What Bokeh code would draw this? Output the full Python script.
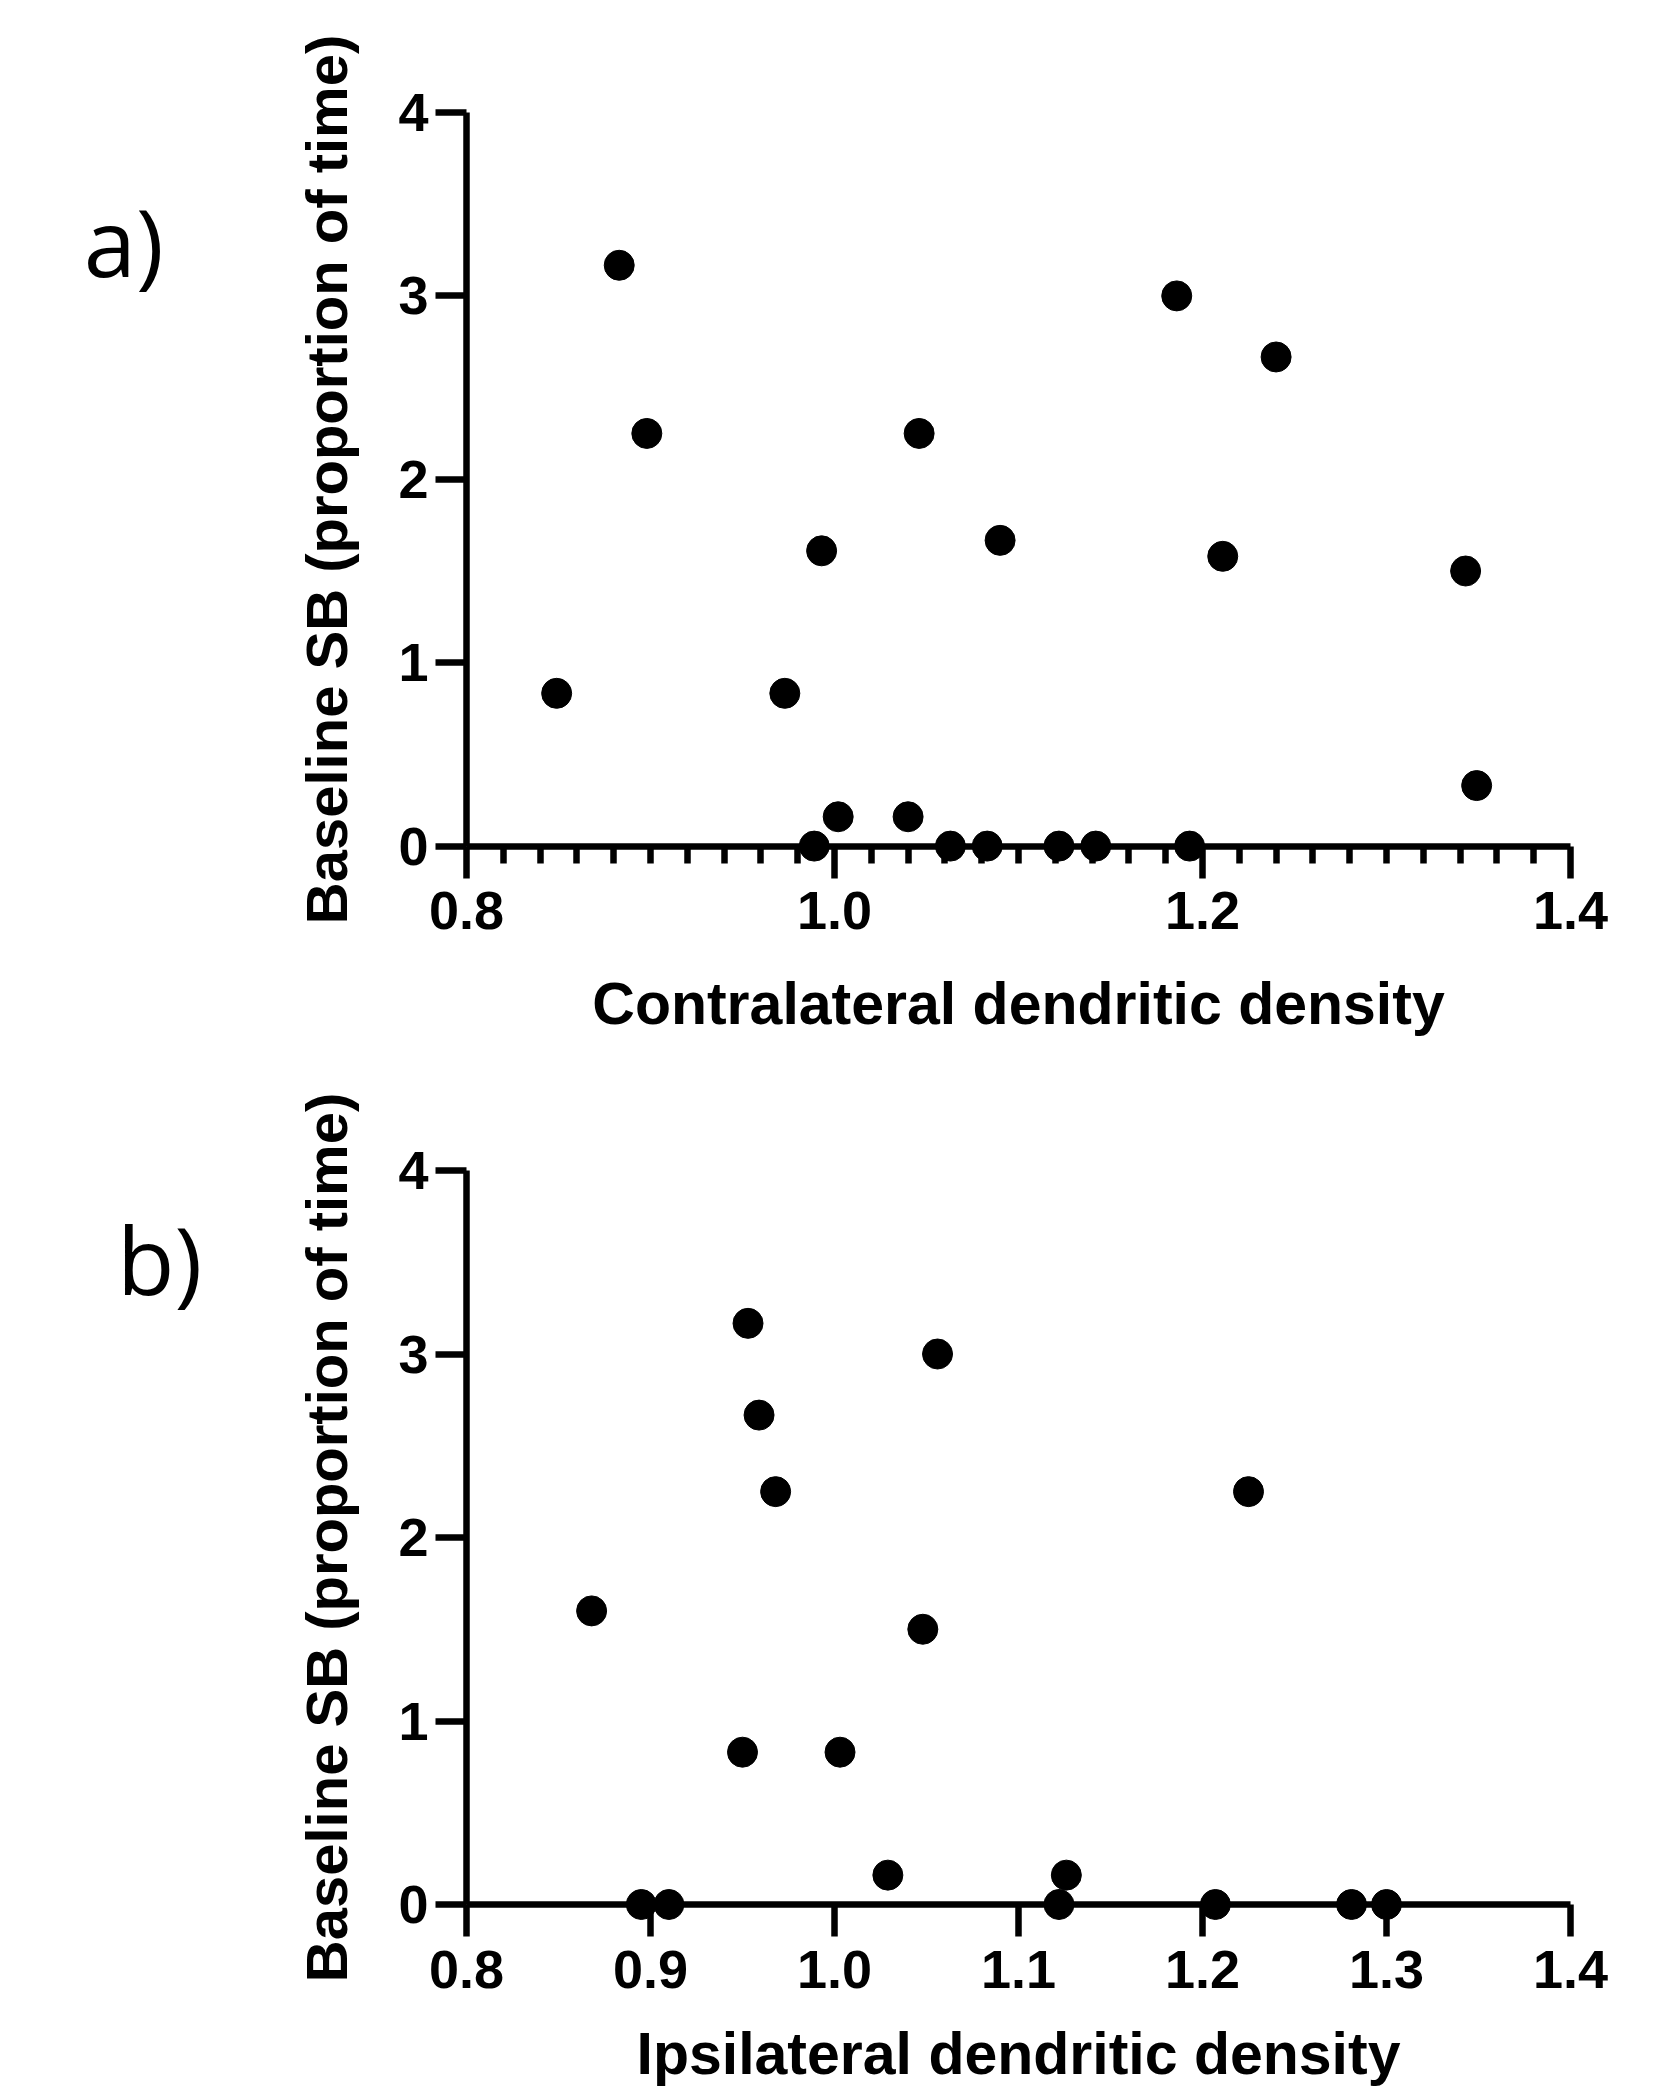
from bokeh.plotting import figure
from bokeh.models import Range1d, FixedTicker, Label, PrintfTickFormatter
from bokeh.layouts import column
from bokeh.embed import file_html
from bokeh.resources import INLINE

# ---- data ----
x_contra = [0.849, 0.883, 0.898, 0.973, 0.993, 0.989, 1.002, 1.040, 1.046, 1.063,
            1.083, 1.090, 1.122, 1.142, 1.186, 1.193, 1.211, 1.240, 1.343, 1.349]
y_contra = [0.833, 3.167, 2.25, 0.833, 1.61, 0.0, 0.16, 0.16, 2.25, 0.0,
            0.0, 1.667, 0.0, 0.0, 3.0, 0.0, 1.58, 2.667, 1.5, 0.33]

x_ipsi = [0.868, 0.895, 0.910, 0.950, 0.953, 0.959, 0.968, 1.003, 1.029, 1.048,
          1.056, 1.122, 1.126, 1.207, 1.225, 1.281, 1.300]
y_ipsi = [1.6, 0.0, 0.0, 0.83, 3.167, 2.667, 2.25, 0.83, 0.16, 1.5,
          3.0, 0.0, 0.16, 0.0, 2.25, 0.0, 0.0]

y_ticks = [0, 1, 2, 3, 4]
x_ticks_a = [0.8, 1.0, 1.2, 1.4]
x_minor_a = [round(0.8 + 0.02 * i, 2) for i in range(1, 30) if i % 10 != 0]
x_ticks_b = [0.8, 0.9, 1.0, 1.1, 1.2, 1.3, 1.4]

y_title = "Baseline SB (proportion of time)"
x_title_a = "Contralateral dendritic density"
x_title_b = "Ipsilateral dendritic density"

FONT = "Liberation Sans"
LW = 6.5
W = 1661
PX_X = 1840.0      # pixels per x unit
X0_PX = 466.0      # canvas px of x = 0.8


def make_panel(xs, ys, xlabel, major, minor, letter, lx, ly,
               height, y4_px, px_y, xlabel_standoff):
    x_start = 0.8 - X0_PX / PX_X
    x_end = x_start + W / PX_X
    y_end = 4.0 + y4_px / px_y
    y_start = y_end - height / px_y
    p = figure(width=W, height=height,
               x_range=Range1d(x_start, x_end), y_range=Range1d(y_start, y_end),
               output_backend="svg", toolbar_location=None,
               min_border=0, min_border_left=0, min_border_right=0,
               min_border_top=0, min_border_bottom=0)
    p.outline_line_color = None
    p.xgrid.visible = False
    p.ygrid.visible = False
    p.background_fill_color = "white"
    p.border_fill_color = "white"

    p.scatter(xs, ys, size=30, color="black", line_color="black")

    xa = p.xaxis[0]
    xa.fixed_location = 0
    xa.bounds = (0.8, 1.4)
    xa.ticker = FixedTicker(ticks=major, minor_ticks=minor)
    xa.formatter = PrintfTickFormatter(format="%.1f")
    xa.axis_line_width = LW
    xa.major_tick_line_width = LW
    xa.minor_tick_line_width = LW
    xa.major_tick_out = 32
    xa.major_tick_in = 0
    xa.minor_tick_out = 17
    xa.minor_tick_in = 0
    xa.axis_line_color = "black"
    xa.major_tick_line_color = "black"
    xa.minor_tick_line_color = "black"
    xa.major_label_text_font = FONT
    xa.major_label_text_font_style = "bold"
    xa.major_label_text_font_size = "54px"
    xa.major_label_text_color = "black"
    xa.major_label_standoff = 14
    xa.axis_label = xlabel
    xa.axis_label_text_font = FONT
    xa.axis_label_text_font_style = "bold"
    xa.axis_label_text_font_size = "59px"
    xa.axis_label_text_color = "black"
    xa.axis_label_standoff = xlabel_standoff

    ya = p.yaxis[0]
    ya.fixed_location = 0.8
    ya.bounds = (0, 4)
    ya.ticker = FixedTicker(ticks=y_ticks, minor_ticks=[])
    ya.axis_line_width = LW
    ya.major_tick_line_width = LW
    ya.major_tick_out = 31
    ya.major_tick_in = 0
    ya.minor_tick_out = 0
    ya.minor_tick_in = 0
    ya.axis_line_color = "black"
    ya.major_tick_line_color = "black"
    ya.major_label_text_font = FONT
    ya.major_label_text_font_style = "bold"
    ya.major_label_text_font_size = "54px"
    ya.major_label_text_color = "black"
    ya.major_label_standoff = 7
    ya.axis_label = y_title
    ya.axis_label_text_font = FONT
    ya.axis_label_text_font_style = "bold"
    ya.axis_label_text_font_size = "58px"
    ya.axis_label_text_color = "black"
    ya.axis_label_standoff = 36

    p.add_layout(Label(x=lx, y=ly, text=letter, text_font="Open Sans",
                       text_font_size="94px", text_color="black",
                       text_baseline="alphabetic", text_align="left"))
    return p


# panel a: canvas 0..1040, y=4 at 112 px, 183.4 px per unit
pa = make_panel(x_contra, y_contra, x_title_a, x_ticks_a, x_minor_a,
                "a)", 0.592, 3.30, 1040, 112.0, 183.4, 38)
# panel b: canvas starts at 1040, y=4 at 1170 px -> 130 px, 183.5 px per unit
pb = make_panel(x_ipsi, y_ipsi, x_title_b, x_ticks_b, [],
                "b)", 0.610, 3.52, 1050, 130.0, 183.5, 30)

layout = column(pa, pb, spacing=0)
open("out.html", "w").write(file_html(layout, INLINE))
